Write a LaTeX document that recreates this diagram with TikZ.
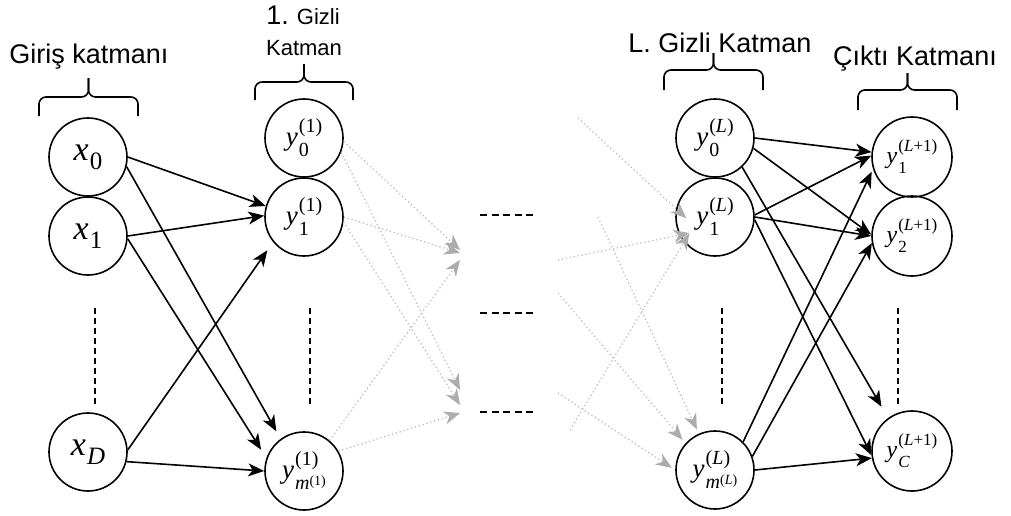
\documentclass[tikz,border=0pt]{standalone}
\usepackage{fontspec}
\setmainfont{Liberation Serif}
\newfontfamily\lsans{Liberation Sans}
\usetikzlibrary{arrows.meta}
\newsavebox\supbox
\newsavebox\subbox
% #1 main letter, #2 superscript, #3 subscript, #4 script size, #5 raise, #6 lower
\newcommand{\nv}[6]{%
  \sbox\supbox{\fontsize{#4}{#4}\selectfont #2}%
  \sbox\subbox{\fontsize{#4}{#4}\selectfont #3}%
  \textit{#1}\kern1pt\rlap{\raisebox{#5}{\usebox\supbox}}\raisebox{-#6}{\usebox\subbox}%
  \ifdim\wd\supbox>\wd\subbox\kern\dimexpr\wd\supbox-\wd\subbox\relax\fi}
\newcommand{\ms}[2]{\textit{m}\raisebox{4pt}{\fontsize{#1}{#1}\selectfont #2}}
\newcommand{\bracetop}[6]{%
  \draw[bracestyle] (#1,#6) -- (#1,#5) -- (#2,#5) -- (#2,#4);
  \draw[bracestyle] (#3,#6) -- (#3,#5) -- (#2,#5) -- (#2,#4);}
\begin{document}
\begin{tikzpicture}[x=1pt,y=-1pt,
  neuron/.style={circle, draw, line width=1.6pt, minimum size=78pt, inner sep=0pt, font=\fontsize{27}{30}\selectfont},
  inneuron/.style={neuron, font=\fontsize{34}{38}\selectfont},
  outneuron/.style={neuron, minimum size=80pt, font=\fontsize{24}{28}\selectfont},
  lbl/.style={font=\lsans\fontsize{27}{30}\selectfont, anchor=base, inner sep=0pt},
  smalllbl/.style={font=\lsans\fontsize{22}{26}\selectfont, anchor=base, inner sep=0pt},
  bracestyle/.style={line width=1.6pt, rounded corners=7pt},
  arr/.style={line width=1.6pt, -{Stealth[length=16pt,width=13pt,inset=4.5pt]}},
  garr/.style={draw=gray!50, line width=1.3pt, dash pattern=on 1.3pt off 2.7pt,
     -{Stealth[length=16pt,width=13pt,inset=5pt,fill=gray!65,color=gray!65]}},
  vdots/.style={line width=2pt, dash pattern=on 6pt off 4pt},
  hdots/.style={line width=2pt, dash pattern=on 7pt off 4.5pt}]
\useasboundingbox (0,0) rectangle (1011,515);

% labels
\node[lbl] (inlab) at (89,63) {Giriş katmanı};
\node[smalllbl] (h1lab1) at (303,24) {{\fontsize{27}{30}\selectfont 1.} Gizli};
\node[smalllbl] (h1lab2) at (304,55) {Katman};
\node[lbl] (Llab) at (720,52) {L. Gizli Katman};
\node[lbl] (outlab) at (915,65) {Çıktı Katmanı};

% braces: x1, xc, x2, tip, h, bottom
\bracetop{39}{88.5}{138}{78}{97}{116}
\bracetop{255}{304}{353}{64}{82}{100}
\bracetop{664}{713.5}{763}{53}{70}{90}
\bracetop{858}{907.5}{957}{73}{90}{110}

% neurons
\node[inneuron] (x0) at (88,157) {\nv{x}{}{0}{25}{0pt}{9pt}};
\node[inneuron] (x1) at (88,236) {\nv{x}{}{1}{25}{0pt}{9pt}};
\node[inneuron] (xD) at (88,452) {\nv{x}{}{\textit{D}}{25}{0pt}{9pt}};

\node[neuron] (h0) at (304,138) {\nv{y}{(1)}{0}{20}{13pt}{11pt}};
\node[neuron] (h1) at (304,217) {\nv{y}{(1)}{1}{20}{13pt}{11pt}};
\node[neuron] (hm) at (304,471) {\nv{y}{(1)}{\ms{14}{(1)}}{20}{13pt}{11pt}};

\node[neuron] (L0) at (715,138) {\nv{y}{(\textit{L})}{0}{20}{13pt}{11pt}};
\node[neuron] (L1) at (715,217) {\nv{y}{(\textit{L})}{1}{20}{13pt}{11pt}};
\node[neuron] (Lm) at (715,470) {\nv{y}{(\textit{L})}{\ms{14}{(\textit{L})}}{20}{13pt}{11pt}};

\node[outneuron] (O1) at (912,157) {\nv{y}{(\textit{L}+1)}{1}{17}{12pt}{10pt}};
\node[outneuron] (O2) at (912,236) {\nv{y}{(\textit{L}+1)}{2}{17}{12pt}{10pt}};
\node[outneuron] (OC) at (912,451) {\nv{y}{(\textit{L}+1)}{\textit{C}}{17}{12pt}{10pt}};

% vertical ellipses
\draw[vdots] (95,308) -- (95,407);
\draw[vdots] (310,308) -- (310,407);
\draw[vdots] (722,308) -- (722,407);
\draw[vdots] (898,308) -- (898,407);

% horizontal ellipses
\draw[hdots] (480,215) -- (534,215);
\draw[hdots] (480,313) -- (534,313);
\draw[hdots] (480,412) -- (534,412);

% input -> hidden 1
\draw[arr] (x0.east) -- (h1.164);
\draw[arr, shorten >=8.6pt] (x0.-14) -- (hm.126);
\draw[arr] (x1.east) -- (h1.178);
\draw[arr, shorten >=9.8pt] (x1.-4) -- (hm.161);
\draw[arr, shorten >=10pt] (xD.3) -- (h1.219);
\draw[arr] (xD.-14) -- (hm.west);

% hidden L -> output
\draw[arr] (L0.east) -- (O1);
\draw[arr] (L0.-15) -- (O2.178);
\draw[arr, shorten >=13pt] (L0.-47) -- (OC.126);
\draw[arr] (L1.3) -- (O1.178);
\draw[arr] (L1.east) -- (O2.180);
\draw[arr] (L1.-4) -- (OC.186);
\draw[arr, shorten >=3pt] (Lm.45) -- (O1.197);
\draw[arr] (Lm.20) -- (O2.190);
\draw[arr] (Lm.east) -- (OC.190);

% faded connections leaving hidden layer 1
\coordinate (t1) at (460,250);
\coordinate (t3) at (460,253);
\coordinate (t5) at (460,260);
\coordinate (t2) at (460,390);
\coordinate (t4) at (460,405);
\coordinate (t6) at (460,413);
\draw[garr] (h0.-5) -- (t1);
\draw[garr] (h0.-21) -- (t2);
\draw[garr] (h1.east) -- (t3);
\draw[garr] (h1.-7) -- (t4);
\draw[garr] (hm.50) -- (t5);
\draw[garr] (hm.30) -- (t6);

% faded connections entering hidden layer L
\coordinate (sa) at (578,118);
\coordinate (sb) at (558,260);
\coordinate (sc) at (598,217);
\coordinate (sd) at (558,293);
\coordinate (sf) at (558,393);
\coordinate (se) at (570,430);
\draw[garr, shorten >=-14pt] (sa) -- (L1.168);
\draw[garr, shorten >=-10pt] (sb) -- (L1.207);
\draw[garr, shorten >=-10pt] (se) -- (L1.219);
\draw[garr, shorten >=4.5pt] (sc) -- (Lm.114);
\draw[garr, shorten >=4.6pt] (sd) -- (Lm.138);
\draw[garr, shorten >=4pt] (sf) -- (Lm.180);
\end{tikzpicture}
\end{document}
